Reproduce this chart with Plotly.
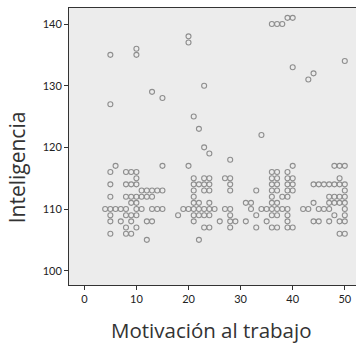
import plotly.graph_objects as go

# Motivación al trabajo (x) and Inteligencia (y), read column by column
motivacion = [
    4,
    5, 5, 5, 5, 5, 5, 5, 5, 5,
    6, 6,
    7, 7,
    8, 8, 8, 8, 8, 8, 8,
    9, 9, 9, 9, 9, 9, 9,
    10, 10, 10, 10, 10, 10, 10, 10, 10, 10,
    11, 11, 11,
    12, 12, 12, 12,
    13, 13, 13, 13, 13,
    14, 14,
    15, 15, 15, 15,
    18,
    19,
    20, 20, 20, 20,
    21, 21, 21, 21, 21, 21, 21, 21, 21,
    22, 22, 22, 22, 22, 22,
    23, 23, 23, 23, 23, 23, 23, 23,
    24, 24, 24, 24, 24, 24, 24, 24,
    25,
    26,
    27, 27,
    28, 28, 28, 28, 28, 28, 28, 28,
    29,
    31, 31,
    32, 32,
    33, 33, 33,
    34, 34,
    35, 35,
    36, 36, 36, 36, 36, 36, 36, 36, 36, 36,
    37, 37, 37, 37, 37, 37, 37, 37, 37,
    38, 38, 38,
    39, 39, 39, 39, 39, 39, 39, 39, 39, 39,
    40, 40, 40, 40, 40, 40, 40,
    42,
    43, 43,
    44, 44, 44, 44,
    45, 45, 45,
    46, 46,
    47, 47, 47, 47, 47,
    48, 48, 48, 48, 48,
    49, 49, 49, 49, 49, 49, 49,
    50, 50, 50, 50, 50, 50, 50, 50, 50, 50,
]

inteligencia = [
    110,
    116, 114, 112, 110, 109, 108, 106, 135, 127,
    117, 110,
    110, 108,
    116, 114, 112, 110, 109, 107, 106,
    116, 114, 112, 111, 109, 108, 106,
    116, 115, 114, 112, 111, 110, 109, 107, 136, 135,
    113, 112, 110,
    113, 112, 108, 105,
    113, 112, 110, 108, 129,
    113, 110,
    117, 113, 110, 128,
    109,
    110,
    117, 110, 138, 137,
    115, 114, 113, 112, 111, 110, 109, 108, 125,
    114, 111, 110, 109, 105, 123,
    120, 115, 114, 113, 110, 109, 107, 130,
    119, 115, 114, 113, 111, 110, 109, 107,
    110,
    108,
    115, 110,
    118, 115, 114, 113, 110, 109, 108, 107,
    108,
    111, 108,
    111, 110,
    113, 109, 107,
    110, 122,
    110, 108,
    116, 115, 114, 113, 112, 111, 110, 109, 107, 140,
    116, 115, 114, 113, 111, 110, 109, 107, 140,
    112, 110, 140,
    116, 115, 114, 113, 112, 110, 109, 108, 107, 141,
    117, 115, 114, 113, 107, 141, 133,
    110,
    110, 131,
    114, 111, 108, 132,
    114, 110, 108,
    114, 110,
    114, 112, 111, 110, 108,
    117, 114, 112, 111, 109,
    117, 115, 114, 112, 111, 108, 106,
    117, 114, 113, 112, 111, 110, 109, 108, 106, 134,
]

x_ticks = [0, 10, 20, 30, 40, 50]
y_ticks = [100, 110, 120, 130, 140]
x_title = "Motivación al trabajo"
y_title = "Inteligencia"

assert len(motivacion) == len(inteligencia)

TICK_FONT = "Lato"
TITLE_FONT = "Open Sans"

fig = go.Figure(
    go.Scatter(
        x=motivacion,
        y=inteligencia,
        mode="markers",
        marker=dict(
            symbol="circle-open",
            size=5,
            color="#8e8e8e",
            line=dict(width=1.1, color="#8e8e8e"),
        ),
        hoverinfo="x+y",
    )
)

axis_common = dict(
    showgrid=False,
    zeroline=False,
    showline=True,
    linecolor="#333333",
    linewidth=1,
    ticks="outside",
    ticklen=4,
    tickwidth=1,
    tickcolor="#333333",
    tickfont=dict(family=TICK_FONT, size=11, color="#222222"),
)

fig.update_layout(
    width=356,
    height=345,
    margin=dict(l=69, r=0, t=8, b=60),
    paper_bgcolor="white",
    plot_bgcolor="#ECECEC",
    showlegend=False,
    font=dict(family=TICK_FONT),
    xaxis=dict(
        range=[-2.94, 52.15],
        tickvals=x_ticks,
        ticktext=[str(v) for v in x_ticks],
        mirror=True,
        **axis_common,
    ),
    yaxis=dict(
        range=[97.68, 142.6],
        tickvals=y_ticks,
        ticktext=[str(v) for v in y_ticks],
        mirror=False,
        **axis_common,
    ),
    annotations=[
        dict(
            text=x_title,
            xref="paper", yref="paper",
            x=0.495, y=-0.164,
            xanchor="center", yanchor="middle",
            showarrow=False,
            font=dict(family=TITLE_FONT, size=20.5, color="#333333"),
        ),
        dict(
            text=y_title,
            xref="paper", yref="paper",
            x=-0.18, y=0.426,
            xanchor="center", yanchor="middle",
            textangle=-90,
            showarrow=False,
            font=dict(family=TITLE_FONT, size=21, color="#333333"),
        ),
    ],
)

# remove the browser's default 8px page margin so the figure fills the window
fig.write_html(
    "out.html",
    config={"displayModeBar": False},
    post_script="document.body.style.margin='0px';"
                "document.documentElement.style.overflow='hidden';",
)
